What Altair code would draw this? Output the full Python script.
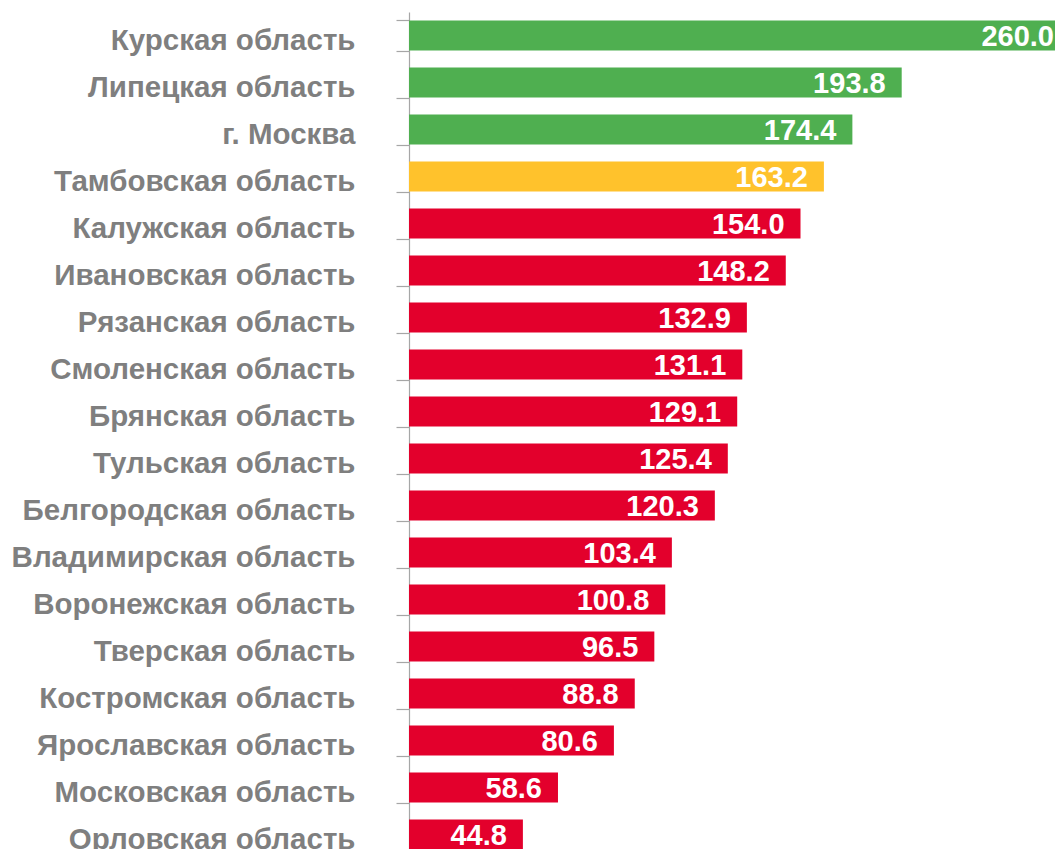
import altair as alt
import pandas as pd

regions = [
    "Курская область", "Липецкая область", "г. Москва", "Тамбовская область",
    "Калужская область", "Ивановская область", "Рязанская область",
    "Смоленская область", "Брянская область", "Тульская область",
    "Белгородская область", "Владимирская область", "Воронежская область",
    "Тверская область", "Костромская область", "Ярославская область",
    "Московская область", "Орловская область",
]
values = [260.0, 193.8, 174.4, 163.2, 154.0, 148.2, 132.9, 131.1, 129.1,
          125.4, 120.3, 103.4, 100.8, 96.5, 88.8, 80.6, 58.6, 44.8]
groups = ["high", "high", "high", "mid"] + ["low"] * 14

df = pd.DataFrame({"region": regions, "value": values, "group": groups})

FONT = "Liberation Sans"

y_enc = alt.Y(
    "region:N", sort=regions, title=None,
    scale=alt.Scale(range=[0, 846], paddingInner=0.36, paddingOuter=0.18),
    axis=alt.Axis(
        labelFont=FONT, labelFontWeight="bold", labelFontSize=29.5,
        labelColor="#7F7F7F", labelPadding=41, labelOffset=5, tickSize=13,
        tickBand="extent", tickColor="#A6A6A6", domainColor="#A6A6A6",
        domainWidth=1.2, tickWidth=1.2, grid=False, labelLimit=400,
    ),
)
x_enc = alt.X("value:Q", axis=None,
              scale=alt.Scale(domain=[0, 260], range=[0, 661], nice=False, zero=True))

bars = alt.Chart(df).mark_bar().encode(
    x=x_enc, y=y_enc,
    color=alt.Color("group:N", legend=None,
                    scale=alt.Scale(domain=["high", "mid", "low"],
                                    range=["#4FAF50", "#FFC22C", "#E3002C"])),
)

labels = alt.Chart(df).mark_text(
    align="right", baseline="middle", dx=-16, dy=1, font=FONT,
    fontWeight="bold", fontSize=29, color="white",
).encode(x=x_enc, y=alt.Y("region:N", sort=regions),
         text=alt.Text("value:Q", format=".1f"))

chart = alt.layer(bars, labels).properties(
    width=646, height=846,
    autosize=alt.AutoSizeParams(type="none"),
    padding={"left": 401, "top": 4, "right": 0, "bottom": 0},
).configure_view(stroke=None)

chart.save("out.html", embed_options={"renderer": "svg", "actions": False})
